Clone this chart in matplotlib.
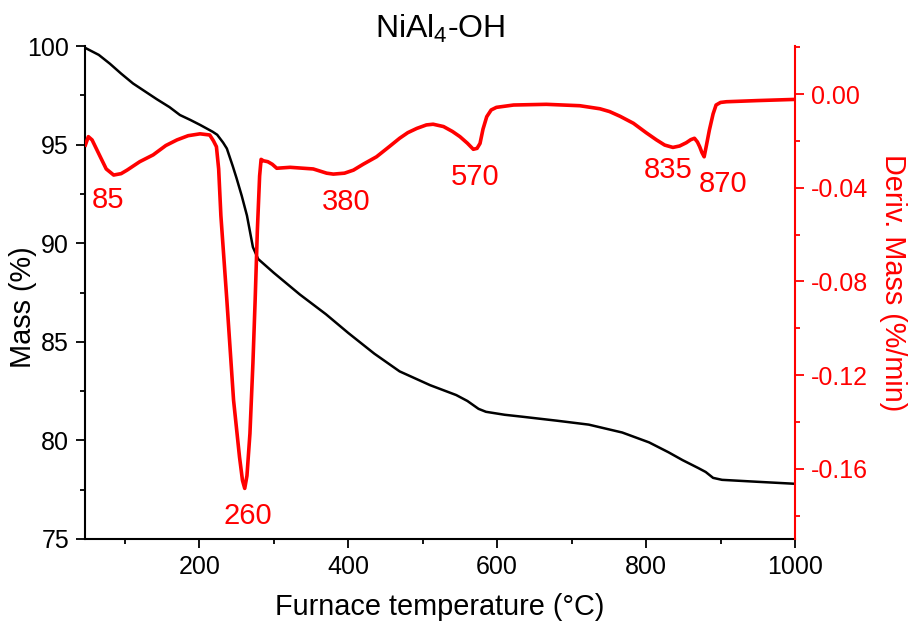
import numpy as np
import matplotlib
matplotlib.use('Agg')
import matplotlib.pyplot as plt
from matplotlib.ticker import MultipleLocator

plt.rcParams['font.family'] = ['Liberation Sans', 'DejaVu Sans']
plt.rcParams['mathtext.fontset'] = 'custom'
plt.rcParams['mathtext.rm'] = 'Liberation Sans'
plt.rcParams['mathtext.default'] = 'rm'

# --TGA mass curve (temperature in C, mass in %)--
temp_mass = [47, 65, 80, 95, 111, 127, 143, 160, 174, 188, 201, 218, 224,
             232, 237, 245, 250, 257, 264, 272, 279, 300, 335, 370, 400, 435,
             469, 510, 545, 560, 575, 585, 610, 634, 680, 723, 768, 804, 830,
             849, 870, 880, 890, 902, 950, 1000]
mass = [99.9, 99.55, 99.1, 98.6, 98.1, 97.7, 97.3, 96.9, 96.5, 96.25, 96.0,
        95.65, 95.5, 95.1, 94.8, 93.9, 93.3, 92.4, 91.4, 89.8, 89.2, 88.5,
        87.4, 86.4, 85.45, 84.4, 83.5, 82.8, 82.3, 82.0, 81.6, 81.45, 81.3,
        81.2, 81.0, 80.8, 80.4, 79.9, 79.4, 79.0, 78.6, 78.4, 78.1, 78.0,
        77.9, 77.8]

# --DTG curve (temperature in C, derivative in %/min)--
temp_deriv = [47, 51, 56, 67, 75, 85, 95, 103, 120, 138, 155, 170, 185,
              201, 214, 219, 223, 226, 229, 237, 246, 254, 258, 261, 264,
              268, 272, 275, 278, 281, 283, 286, 292, 298, 304, 322, 353,
              371, 380, 395, 407, 420, 438, 455, 469, 480, 492, 505, 514,
              528, 540, 550, 560, 568, 573, 577, 581, 586, 592, 599, 622,
              666, 711, 738, 751, 765, 783, 800, 814, 825, 836, 845, 854,
              860, 865, 869, 872, 875, 878, 881, 885, 890, 894, 900, 908,
              950, 1000]
deriv = [-0.0218, -0.0182, -0.0196, -0.0268, -0.032, -0.0346, -0.034,
         -0.0325, -0.0289, -0.026, -0.022, -0.0196, -0.0178, -0.017, -0.0175,
         -0.02, -0.0225, -0.032, -0.052, -0.088, -0.1307, -0.155, -0.165,
         -0.1684, -0.163, -0.145, -0.115, -0.088, -0.058, -0.035, -0.0279,
         -0.0285, -0.0289, -0.030, -0.0317, -0.0313, -0.032, -0.0338, -0.0342,
         -0.0338, -0.0325, -0.030, -0.0268, -0.0225, -0.0189, -0.0165,
         -0.0147, -0.0132, -0.0129, -0.0139, -0.016, -0.0182, -0.021,
         -0.0236, -0.0232, -0.0211, -0.015, -0.0097, -0.0068, -0.0057,
         -0.0047, -0.0044, -0.005, -0.0063, -0.0075, -0.0095, -0.0125,
         -0.0165, -0.0196, -0.0218, -0.0228, -0.0222, -0.0208, -0.0195,
         -0.0189, -0.0205, -0.0225, -0.025, -0.0268, -0.022, -0.0154,
         -0.0085, -0.0047, -0.0036, -0.0033, -0.0028, -0.0023]

# peak labels: (text, x, y on deriv axis)
peak_labels = ['85', '260', '380', '570', '835', '870']
peak_x = [77, 265, 397, 570, 829, 904]
peak_y = [-0.0453, -0.180, -0.0461, -0.0354, -0.0325, -0.0384]

fig = plt.figure(figsize=(9.12, 6.24), dpi=100)
ax = fig.add_axes([85 / 912, 1 - 539 / 624, 710 / 912, 493 / 624])
ax2 = ax.twinx()

ax.plot(temp_mass, mass, color='black', lw=1.8, zorder=3)
ax2.plot(temp_deriv, deriv, color='red', lw=2.6)

ax.set_xlim(46.5, 1000)
ax.set_ylim(75, 100)
ax2.set_ylim(-0.19, 0.0205)

ax.xaxis.set_major_locator(MultipleLocator(200))
ax.xaxis.set_minor_locator(MultipleLocator(100))
ax.yaxis.set_major_locator(MultipleLocator(5))
ax.yaxis.set_minor_locator(MultipleLocator(2.5))
ax2.yaxis.set_major_locator(MultipleLocator(0.04))
ax2.yaxis.set_minor_locator(MultipleLocator(0.02))
ax2.yaxis.set_major_formatter(lambda v, p: f'{v:.2f}')

for a in (ax, ax2):
    a.spines['top'].set_visible(False)
    for s in a.spines.values():
        s.set_linewidth(1.5)
ax.spines['right'].set_visible(False)
ax2.spines['left'].set_visible(False)
ax2.spines['bottom'].set_visible(False)
ax2.spines['right'].set_color('red')

ax.tick_params(which='major', length=6.5, width=1.3, labelsize=18, pad=5)
ax.tick_params(which='minor', length=3.8, width=1.3)
ax2.tick_params(which='major', length=6.5, width=1.3, labelsize=18,
                pad=5, colors='red')
ax2.tick_params(which='minor', length=3.8, width=1.3, colors='red')

ax.set_xlabel('Furnace temperature (°C)', fontsize=20.8, labelpad=10)
ax.set_ylabel('Mass (%)', fontsize=20.8)
ax.yaxis.set_label_coords(-0.068, 0.47)
ax2.set_ylabel('Deriv. Mass (%/min)', fontsize=20.8, color='red',
               rotation=270, labelpad=30)
ax2.yaxis.set_label_coords(1.158, 0.52)
ax.set_title('NiAl$_4$-OH', fontsize=23, pad=6)

for t, x, y in zip(peak_labels, peak_x, peak_y):
    ax2.text(x, y, t, color='red', fontsize=21, ha='center', va='center')

fig.savefig('out.png', dpi=100)
